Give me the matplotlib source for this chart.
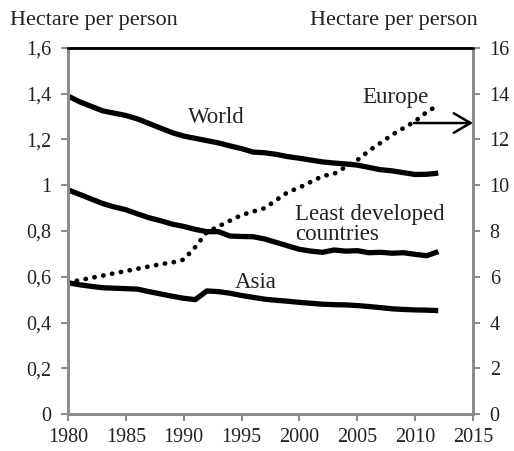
import matplotlib
matplotlib.use("Agg")
import matplotlib.pyplot as plt

years = list(range(1980, 2013))
world = [1.39, 1.365, 1.345, 1.325, 1.315, 1.305, 1.29, 1.27, 1.25, 1.23, 1.215, 1.205, 1.195,
         1.185, 1.172, 1.16, 1.145, 1.142, 1.135, 1.125, 1.118, 1.11, 1.102, 1.097, 1.093, 1.088,
         1.078, 1.068, 1.063, 1.055, 1.047, 1.048, 1.053]
ldc = [0.98, 0.96, 0.94, 0.92, 0.905, 0.893, 0.875, 0.858, 0.845, 0.83, 0.82, 0.807, 0.797,
       0.797, 0.778, 0.776, 0.775, 0.765, 0.75, 0.735, 0.72, 0.712, 0.707, 0.717, 0.712, 0.714,
       0.705, 0.707, 0.703, 0.705, 0.698, 0.692, 0.71]
asia = [0.574, 0.565, 0.558, 0.552, 0.55, 0.548, 0.546, 0.535, 0.525, 0.515, 0.506, 0.5, 0.538,
        0.535, 0.528, 0.518, 0.51, 0.502, 0.497, 0.493, 0.488, 0.484, 0.48, 0.478, 0.477, 0.474,
        0.47, 0.465, 0.46, 0.457, 0.455, 0.454, 0.452]
europe = [5.75, 5.85, 5.95, 6.05, 6.15, 6.25, 6.35, 6.45, 6.55, 6.62, 6.75, 7.3, 7.95, 8.2,
          8.45, 8.7, 8.85, 9.0, 9.35, 9.7, 9.9, 10.15, 10.4, 10.5, 10.8, 11.1, 11.5, 11.85,
          12.2, 12.5, 12.8, 13.2, 13.5]

left_ticks = [0, 0.2, 0.4, 0.6, 0.8, 1.0, 1.2, 1.4, 1.6]
left_labels = ["0", "0,2", "0,4", "0,6", "0,8", "1", "1,2", "1,4", "1,6"]
right_ticks = [0, 2, 4, 6, 8, 10, 12, 14, 16]
x_ticks = [1980, 1985, 1990, 1995, 2000, 2005, 2010, 2015]

plt.rcParams['font.family'] = ['Liberation Serif', 'DejaVu Serif']
FS_TICK = 14.5
FS_TITLE = 16
FS_ANN = 16.5
GRAY = '#8c8c8c'
TXT = '#222222'

fig = plt.figure(figsize=(5.14, 4.51), dpi=100)
ax = fig.add_axes([0.1323, 0.082, 0.7879, 0.8116])
ax2 = ax.twinx()

for series in (world, ldc, asia):
    ax.plot(years, series, color='black', lw=3.8, solid_capstyle='butt', solid_joinstyle='round')
ax2.plot(years, europe, color='black', lw=3.4, linestyle=(0, (0.05, 1.85)),
         dash_capstyle='round')

ax.set_xlim(1980, 2015)
ax.set_ylim(0, 1.6)
ax2.set_ylim(0, 16)
ax.set_xticks(x_ticks)
ax.set_xticklabels([str(t) for t in x_ticks])
ax.set_yticks(left_ticks)
ax.set_yticklabels(left_labels)
ax2.set_yticks(right_ticks)
ax2.set_yticklabels([str(t) for t in right_ticks])

for a in (ax, ax2):
    for s in ('left', 'right', 'bottom'):
        a.spines[s].set_color(GRAY)
        a.spines[s].set_linewidth(2)
    a.spines['top'].set_color('black')
    a.spines['top'].set_linewidth(1.8)
    a.tick_params(colors=GRAY, labelcolor=TXT, labelsize=FS_TICK, width=1.5, length=5,
                  direction='out')
ax.tick_params(axis='x', pad=5)
ax.tick_params(axis='y', pad=7)
ax2.tick_params(axis='y', pad=7)

ax.text(1992.8, 1.298, "World", fontsize=FS_ANN, color=TXT, ha='center', va='center')
ax2.text(2008.3, 13.85, "Europe", fontsize=FS_ANN, color=TXT, ha='center', va='center')
ax.text(1999.6, 0.83, "Least developed\ncountries", fontsize=FS_ANN, color=TXT,
        ha='left', va='center', linespacing=0.95)
ax.text(1996.2, 0.575, "Asia", fontsize=FS_ANN, color=TXT, ha='center', va='center')

ax2.annotate("", xy=(2015, 12.72), xytext=(2009.9, 12.72),
             arrowprops=dict(arrowstyle='->,head_length=0.6,head_width=0.35', color='black',
                             lw=1.8, mutation_scale=20, shrinkA=0, shrinkB=0))

fig.text(0.02, 0.955, "Hectare per person", fontsize=FS_TITLE, color=TXT, ha='left', va='center')
fig.text(0.93, 0.955, "Hectare per person", fontsize=FS_TITLE, color=TXT, ha='right', va='center')

fig.savefig("out.png", dpi=100)
